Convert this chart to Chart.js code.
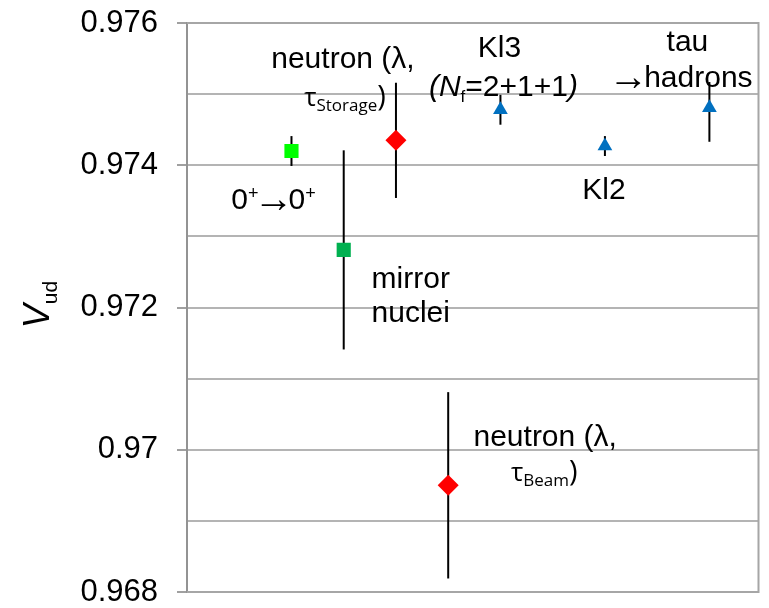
<!DOCTYPE html>
<html>
<head>
<meta charset="utf-8">
<script src="https://cdn.jsdelivr.net/npm/chart.js@4.4.1/dist/chart.umd.min.js"></script>
<style>
    html, body { margin: 0; padding: 0; background: #fff; }
    #wrap { width: 769px; height: 608px; }
</style>
</head>
<body>
<div id="wrap"><canvas id="vudChart" width="769" height="608"></canvas></div>
<script>
// Data
const categories = ['0+→0+', 'mirror nuclei', 'neutron (λ, τStorage)', 'neutron (λ, τBeam)', 'Kl3 (Nf=2+1+1)', 'Kl2', 'tau→hadrons'];
const xPos = [2, 3, 4, 5, 6, 8, 10];
const vud = [0.97420, 0.97281, 0.97435, 0.96950, 0.97478, 0.97427, 0.97481];
const errUp = [0.00021, 0.00140, 0.00081, 0.00131, 0.00021, 0.00014, 0.00036];
const errDown = [0.00021, 0.00140, 0.00081, 0.00131, 0.00021, 0.00014, 0.00048];
const tickValues = [0.968, 0.969, 0.970, 0.971, 0.972, 0.973, 0.974, 0.975, 0.976];
const tickLabels = ['0.968', '', '0.97', '', '0.972', '', '0.974', '', '0.976'];

// Styles
const SANS = '"Liberation Sans", Arial, sans-serif';
const CAL = '"Open Sans", "Noto Sans", sans-serif';
const markerStyle = ['rect', 'rect', 'rectRot', 'rectRot', 'triangle', 'triangle', 'triangle'];
const markerColor = ['#00ff00', '#00b050', '#ff0000', '#ff0000', '#0070c0', '#0070c0', '#0070c0'];
const markerRadius = [10, 10, 10.5, 10.5, 8.5, 8.5, 8.5];

const big = '30px ' + SANS;
const bigIt = 'italic 30px ' + SANS;
const supF = '18px ' + SANS;
const arrowF = '40px ' + SANS;
const tauF = '26px ' + CAL;
const subF = '17px ' + CAL;
const parF = '29px ' + CAL;

// label text runs: [text, font, baseline shift, tighten], placed relative to each point
const pointLabels = [
    { i: 0, lines: [{ dx: -18, dy: 58, runs: [['0', big], ['+', supF, -10], ['→', arrowF, 3, 5], ['0', big], ['+', supF, -10]] }] },
    { i: 1, lines: [{ dx: 67, dy: 38, runs: [['mirror', big]] }, { dx: 67, dy: 72, runs: [['nuclei', big]] }] },
    { i: 2, lines: [{ dx: -53, dy: -72, runs: [['neutron (λ,', big]] },
                    { dx: -51, dy: -34, runs: [['τ', tauF], ['Storage', subF, 5], [')', parF]] }] },
    { i: 3, lines: [{ dx: 97, dy: -39, runs: [['neutron (λ,', big]] },
                    { dx: 96, dy: -4, runs: [['τ', tauF], ['Beam', subF, 5], [')', parF]] }] },
    { i: 4, lines: [{ dx: -1, dy: -53, runs: [['Kl3', big]] },
                    { dx: 3, dy: -14, runs: [['(', bigIt], ['N', bigIt], ['f', '17px ' + SANS, 6], ['=2+1+1', big], [')', bigIt]] }] },
    { i: 5, lines: [{ dx: -1, dy: 53, runs: [['Kl2', big]] }] },
    { i: 6, lines: [{ dx: -22, dy: -57, runs: [['tau', big]] }, { dx: -27, dy: -21, runs: [['→', arrowF, 3, 4], ['hadrons', big]] }] }
];

function drawRuns(ctx, runs, cx, baseY) {
    let total = 0;
    runs.forEach(r => { ctx.font = r[1]; total += ctx.measureText(r[0]).width - 2 * (r[3] || 0); });
    let x = cx - total / 2;
    runs.forEach(r => {
        const k = r[3] || 0;
        ctx.font = r[1];
        ctx.fillText(r[0], x - k, baseY + (r[2] || 0));
        x += ctx.measureText(r[0]).width - 2 * k;
    });
}

const frame = {
    id: 'frame',
    beforeDatasetsDraw(chart) {
        const { ctx, chartArea: a } = chart;
        ctx.save();
        ctx.strokeStyle = '#a6a6a6';
        ctx.lineWidth = 2;
        ctx.beginPath();
        ctx.moveTo(a.left, a.top);
        ctx.lineTo(a.right, a.top);
        ctx.lineTo(a.right, a.bottom);
        ctx.lineTo(a.left, a.bottom);
        ctx.stroke();
        ctx.restore();
    }
};

const errorBars = {
    id: 'errorBars',
    beforeDatasetsDraw(chart) {
        const { ctx, scales: { x, y } } = chart;
        ctx.save();
        ctx.strokeStyle = '#000';
        ctx.lineWidth = 2;
        xPos.forEach((xv, i) => {
            const px = x.getPixelForValue(xv);
            ctx.beginPath();
            ctx.moveTo(px, y.getPixelForValue(vud[i] + errUp[i]));
            ctx.lineTo(px, y.getPixelForValue(vud[i] - errDown[i]));
            ctx.stroke();
        });
        ctx.restore();
    }
};

const textLabels = {
    id: 'textLabels',
    afterDatasetsDraw(chart) {
        const { ctx, scales: { x, y } } = chart;
        ctx.save();
        ctx.fillStyle = '#000';
        ctx.textBaseline = 'alphabetic';
        ctx.textAlign = 'left';
        pointLabels.forEach(lbl => {
            const px = x.getPixelForValue(xPos[lbl.i]);
            const py = y.getPixelForValue(vud[lbl.i]);
            lbl.lines.forEach(l => drawRuns(ctx, l.runs, px + l.dx, py + l.dy));
        });

        // y axis title: V_ud
        const midY = (chart.chartArea.top + chart.chartArea.bottom) / 2;
        ctx.translate(49, midY - 3);
        ctx.rotate(-Math.PI / 2);
        drawRuns(ctx, [['V', 'italic 36px ' + SANS], ['ud', '21px ' + SANS, 8]], 0, 0);
        ctx.restore();
    }
};

new Chart(document.getElementById('vudChart'), {
    type: 'scatter',
    data: {
        datasets: [{
            label: 'Vud',
            data: xPos.map((xv, i) => ({ x: xv, y: vud[i] })),
            pointStyle: markerStyle,
            pointBackgroundColor: markerColor,
            pointBorderColor: markerColor,
            pointBorderWidth: 0,
            pointRadius: markerRadius,
            pointHoverRadius: markerRadius,
            showLine: false
        }]
    },
    options: {
        responsive: false,
        animation: false,
        layout: { padding: { top: 23, right: 9, bottom: 16, left: 0 } },
        plugins: { legend: { display: false }, tooltip: { enabled: false } },
        scales: {
            x: { type: 'linear', min: 0, max: 10.94, display: false },
            y: {
                min: 0.968,
                max: 0.976,
                afterBuildTicks: axis => { axis.ticks = tickValues.map(v => ({ value: v })); },
                afterFit: scale => {
                    scale.width = 187;
                    scale.paddingTop = 0;
                    scale.paddingBottom = 0;
                },
                ticks: {
                    autoSkip: false,
                    padding: 19,
                    color: '#000',
                    font: { family: SANS, size: 31 },
                    callback: (v, i) => tickLabels[i]
                },
                grid: {
                    color: '#b4b4b4',
                    lineWidth: 2,
                    tickLength: 10,
                    tickColor: c => tickLabels[c.index] ? '#a0a0a0' : 'rgba(0,0,0,0)'
                },
                border: { color: '#939393', width: 2 }
            }
        }
    },
    plugins: [frame, errorBars, textLabels]
});
</script>
</body>
</html>
